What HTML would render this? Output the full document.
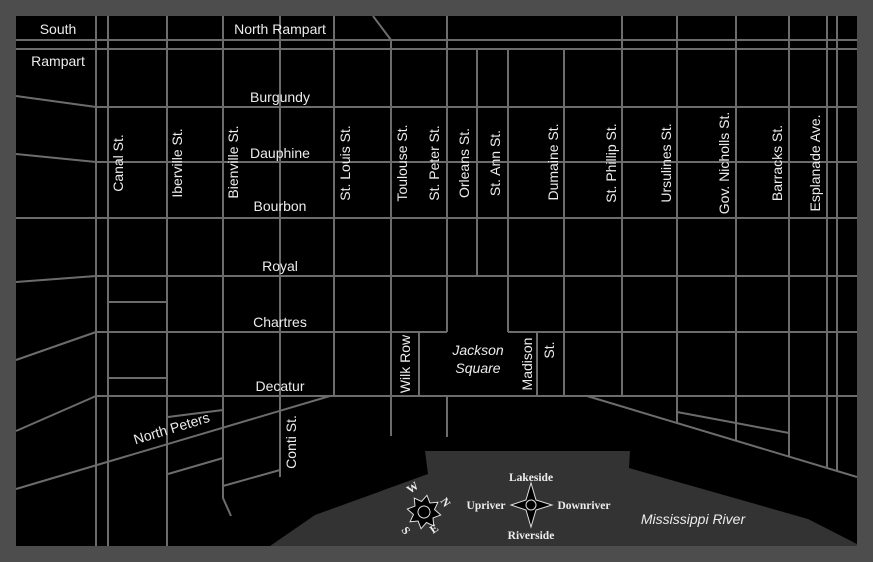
<!DOCTYPE html>
<html><head><meta charset="utf-8"><style>
html,body{margin:0;padding:0;background:#4d4d4d;}
svg{display:block;}
text{font-family:"Liberation Sans",sans-serif;fill:#ececec;font-size:14px;}
.s{font-family:"Liberation Serif",serif;font-weight:bold;font-size:11.5px;}
</style></head><body>
<svg width="873" height="562" viewBox="0 0 873 562" xmlns="http://www.w3.org/2000/svg">
<rect x="0" y="0" width="873" height="562" fill="#4d4d4d"/>
<rect x="16" y="16" width="841" height="530" fill="#000"/>
<polygon points="270,546 315,515 428,474 425,451 630,451 629,468 808,519 857,544 857,546" fill="#333"/>
<g stroke="#6c6c6c" stroke-width="2" fill="none">
<!-- horizontals -->
<line x1="16" y1="40" x2="857" y2="40"/>
<line x1="16" y1="49" x2="857" y2="49"/>
<line x1="96" y1="107" x2="857" y2="107"/>
<line x1="96" y1="162" x2="857" y2="162"/>
<line x1="16" y1="218" x2="857" y2="218"/>
<line x1="96" y1="276" x2="857" y2="276"/>
<line x1="96" y1="332" x2="447" y2="332"/>
<line x1="508" y1="332" x2="857" y2="332"/>
<line x1="96" y1="396" x2="857" y2="396"/>
<!-- left slants -->
<line x1="16" y1="96" x2="96" y2="107"/>
<line x1="16" y1="154" x2="96" y2="162"/>
<line x1="16" y1="282" x2="96" y2="276"/>
<line x1="16" y1="360" x2="96" y2="332"/>
<line x1="16" y1="431" x2="96" y2="396"/>
<line x1="16" y1="489" x2="330" y2="396"/>
<!-- small -->
<line x1="108" y1="302" x2="167" y2="302"/>
<line x1="108" y1="378" x2="167" y2="378"/>
<line x1="168" y1="417" x2="223" y2="410"/>
<line x1="168" y1="474" x2="223" y2="458"/>
<line x1="223" y1="486" x2="280" y2="470"/>
<!-- verticals -->
<line x1="96" y1="16" x2="96" y2="546"/>
<line x1="108" y1="16" x2="108" y2="546"/>
<line x1="167" y1="16" x2="167" y2="546"/>
<polyline points="223,16 223,498 231,516"/>
<line x1="280" y1="16" x2="280" y2="477"/>
<line x1="334" y1="16" x2="334" y2="396"/>
<polyline points="373,16 391,40 391,436"/>
<line x1="419" y1="332" x2="419" y2="396"/>
<line x1="447" y1="16" x2="447" y2="332"/>
<line x1="447" y1="396" x2="447" y2="437"/>
<line x1="477" y1="49" x2="477" y2="276"/>
<line x1="508" y1="49" x2="508" y2="332"/>
<line x1="537" y1="332" x2="537" y2="396"/>
<line x1="564" y1="49" x2="564" y2="396"/>
<line x1="622" y1="16" x2="622" y2="396"/>
<line x1="677" y1="16" x2="677" y2="423"/>
<line x1="736" y1="16" x2="736" y2="441"/>
<line x1="789" y1="16" x2="789" y2="457"/>
<line x1="827" y1="16" x2="827" y2="468"/>
<line x1="837" y1="16" x2="837" y2="471"/>
<line x1="587" y1="396" x2="857" y2="477"/>
<polyline points="677,412 736,423 789,433"/>
</g>
<!-- labels -->
<text x="58" y="34" text-anchor="middle">South</text>
<text x="58" y="66" text-anchor="middle">Rampart</text>
<text x="280" y="34" text-anchor="middle">North Rampart</text>
<text x="280" y="102" text-anchor="middle">Burgundy</text>
<text x="280" y="158" text-anchor="middle">Dauphine</text>
<text x="280" y="211" text-anchor="middle">Bourbon</text>
<text x="280" y="271" text-anchor="middle">Royal</text>
<text x="280" y="327" text-anchor="middle">Chartres</text>
<text x="280" y="391" text-anchor="middle">Decatur</text>
<text transform="translate(173,433) rotate(-17)" text-anchor="middle">North Peters</text>
<g text-anchor="middle">
<text transform="translate(123,163) rotate(-90)">Canal St.</text>
<text transform="translate(182,163) rotate(-90)">Iberville St.</text>
<text transform="translate(238,162) rotate(-90)">Bienville St.</text>
<text transform="translate(350,163) rotate(-90)">St. Louis St.</text>
<text transform="translate(407,163) rotate(-90)">Toulouse St.</text>
<text transform="translate(439,163) rotate(-90)">St. Peter St.</text>
<text transform="translate(469,163) rotate(-90)">Orleans St.</text>
<text transform="translate(500,163) rotate(-90)">St. Ann St.</text>
<text transform="translate(558,162) rotate(-90)">Dumaine St.</text>
<text transform="translate(616,163) rotate(-90)">St. Phillip St.</text>
<text transform="translate(671,163) rotate(-90)">Ursulines St.</text>
<text transform="translate(729,163) rotate(-90)">Gov. Nicholls St.</text>
<text transform="translate(782,163) rotate(-90)">Barracks St.</text>
<text transform="translate(820,163) rotate(-90)">Esplanade Ave.</text>
<text transform="translate(296,442) rotate(-90)">Conti St.</text>
<text transform="translate(410,364) rotate(-90)">Wilk Row</text>
<text transform="translate(532,364) rotate(-90)">Madison</text>
<text transform="translate(554,350) rotate(-90)">St.</text>
<text x="478" y="355" font-style="italic">Jackson</text>
<text x="478" y="373" font-style="italic">Square</text>
</g>
<text x="693" y="524" text-anchor="middle" font-style="italic">Mississippi River</text>
<!-- right compass -->
<g class="s" text-anchor="middle">
<text class="s" x="531" y="481">Lakeside</text>
<text class="s" x="486" y="509">Upriver</text>
<text class="s" x="584" y="509">Downriver</text>
<text class="s" x="531" y="539">Riverside</text>
</g>
<g stroke="#ddd" stroke-width="1">
<polygon points="531,483 536,500 552,505 536,510 531,527 526,510 511,505 526,500" fill="#000"/>
<circle cx="531" cy="505" r="5" fill="#000"/>
<!-- left compass -->
<g transform="translate(424,512) rotate(-35)">
<polygon points="0,-17 4,-10 12,-12 10,-4 17,0 10,4 12,12 4,10 0,17 -4,10 -12,12 -10,4 -17,0 -10,-4 -12,-12 -4,-10" fill="#000"/>
<circle cx="0" cy="0" r="6" fill="#000"/>
</g>
</g>
<g class="s" font-size="9">
<text class="s" x="410" y="494" font-size="9" transform="rotate(-35 410 494)">W</text>
<text class="s" x="440" y="501" font-size="9" transform="rotate(55 440 501)">N</text>
<text class="s" x="401" y="530" font-size="9" transform="rotate(55 401 530)">S</text>
<text class="s" x="433" y="534" font-size="9" transform="rotate(-35 433 534)">E</text>
</g>
</svg>
</body></html>
